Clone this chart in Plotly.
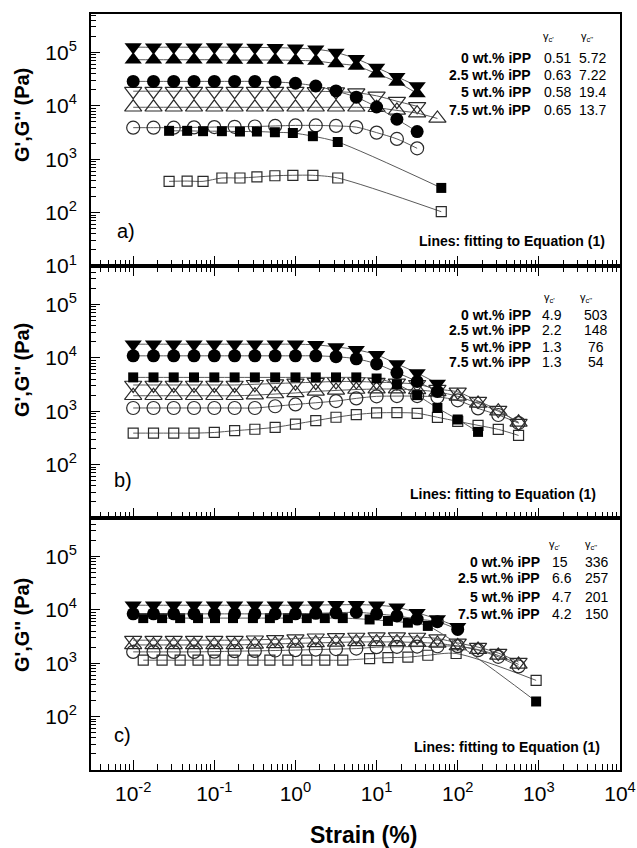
import plotly.graph_objects as go

# ---------------- data ----------------
# strain sweep grid (%)
strain = [0.01, 0.0178, 0.0316, 0.0562, 0.1, 0.178, 0.316, 0.562, 1.0, 1.78,
          3.16, 5.62, 10.0, 17.8, 31.6, 56.2, 100.0, 178.0, 316.0, 562.0]

# panel a
a_strain_sq = [0.0277, 0.0462, 0.0726, 0.124, 0.207, 0.335, 0.558, 0.929, 1.64, 3.32, 62.7]
a_tri_dn_fill = [1.26e5, 1.25e5, 1.26e5, 1.25e5, 1.26e5, 1.25e5, 1.24e5, 1.23e5, 1.2e5,
                 1.15e5, 1.0e5, 7.6e4, 5.2e4, 3.5e4, 2.35e4]
a_tri_up_fill = [7.3e4, 7.3e4, 7.3e4, 7.3e4, 7.3e4, 7.2e4, 7.2e4, 7.2e4, 7.1e4,
                 6.9e4, 6.2e4, 5.6e4, 4.0e4, 2.8e4, 1.7e4]
a_circ_fill = [2.87e4, 2.87e4, 2.87e4, 2.87e4, 2.87e4, 2.87e4, 2.87e4, 2.8e4, 2.65e4,
               2.35e4, 1.9e4, 1.45e4, 9.5e3, 5.6e3, 3.3e3]
a_sq_fill = [3.4e3, 3.4e3, 3.35e3, 3.35e3, 3.3e3, 3.3e3, 3.2e3, 3.1e3, 2.7e3, 2.1e3, 290]
a_tri_dn_open = [1.88e4, 1.88e4, 1.88e4, 1.88e4, 1.88e4, 1.88e4, 1.88e4, 1.88e4, 1.88e4,
                 1.87e4, 1.84e4, 1.76e4, 1.54e4, 1.22e4, 9.8e3]
a_tri_up_open = [9.4e3, 9.4e3, 9.4e3, 9.4e3, 9.4e3, 9.4e3, 9.4e3, 9.4e3, 9.4e3, 9.4e3,
                 9.4e3, 9.4e3, 9.2e3, 8.2e3, 7.3e3, 5.8e3]
a_circ_open = [3.9e3, 3.9e3, 3.9e3, 3.95e3, 4.0e3, 4.05e3, 4.1e3, 4.2e3, 4.3e3,
               4.3e3, 4.2e3, 4.0e3, 3.15e3, 2.4e3, 1.6e3]
a_sq_open = [385, 390, 385, 445, 445, 465, 490, 500, 500, 445, 104]

# panel b
b_tri_dn_fill = [1.8e4, 1.8e4, 1.8e4, 1.8e4, 1.8e4, 1.8e4, 1.8e4, 1.8e4, 1.8e4,
                 1.75e4, 1.6e4, 1.42e4, 1.14e4, 7.7e3, 5.2e3, 3.3e3]
b_circ_fill = [1.09e4, 1.09e4, 1.09e4, 1.09e4, 1.09e4, 1.09e4, 1.09e4, 1.09e4, 1.09e4,
               1.09e4, 1.05e4, 9.6e3, 7.7e3, 5.3e3, 3.6e3, 2.35e3]
b_sq_fill = [4.3e3, 4.3e3, 4.3e3, 4.3e3, 4.3e3, 4.3e3, 4.3e3, 4.3e3, 4.3e3, 4.3e3,
             4.3e3, 4.3e3, 4.1e3, 3.2e3, 2.0e3, 1.15e3, 700, 410]
b_tri_dn_open = [3.1e3, 3.1e3, 3.1e3, 3.1e3, 3.1e3, 3.1e3, 3.2e3, 3.3e3, 3.4e3, 3.5e3,
                 3.6e3, 3.6e3, 3.5e3, 3.4e3, 3.2e3, 2.6e3, 2.3e3, 1.55e3, 1.05e3, 600]
b_tri_up_open = [1.95e3, 1.95e3, 1.95e3, 1.95e3, 1.95e3, 1.95e3, 2.0e3, 2.1e3, 2.2e3, 2.35e3,
                 2.45e3, 2.55e3, 2.6e3, 2.6e3, 2.5e3, 2.3e3, 1.9e3, 1.4e3, 1.0e3, 620]
b_circ_open = [1.15e3, 1.15e3, 1.15e3, 1.15e3, 1.15e3, 1.15e3, 1.15e3, 1.24e3, 1.34e3, 1.44e3,
               1.55e3, 1.74e3, 1.9e3, 1.92e3, 1.92e3, 1.85e3, 1.6e3, 1.13e3, 850, 600]
b_sq_open = [389, 389, 389, 389, 400, 432, 460, 500, 575, 667,
             771, 867, 930, 940, 915, 770, 646, 544, 457, 352]

# panel c
c_strain_sq = [0.0133, 0.0227, 0.0379, 0.063, 0.102, 0.170, 0.299, 0.484, 0.807, 1.38,
               2.30, 3.83, 8.2, 13.8, 24.3, 42.8, 925]
c_strain_sq_open = [0.0133, 0.0227, 0.0379, 0.063, 0.102, 0.170, 0.299, 0.484, 0.807, 1.38,
                    2.30, 3.83, 8.2, 13.8, 24.3, 42.8, 95.5, 925]
c_tri_dn_fill = [1.22e4, 1.22e4, 1.22e4, 1.22e4, 1.22e4, 1.22e4, 1.22e4, 1.22e4, 1.22e4,
                 1.23e4, 1.24e4, 1.25e4, 1.22e4, 1.12e4, 8.8e3, 6.7e3, 4.8e3]
c_circ_fill = [8.4e3, 8.4e3, 8.4e3, 8.4e3, 8.4e3, 8.4e3, 8.4e3, 8.4e3, 8.4e3,
               8.6e3, 8.8e3, 9.0e3, 8.4e3, 7.7e3, 6.7e3, 6.0e3, 4.3e3]
c_sq_fill = [7.0e3, 7.0e3, 7.0e3, 7.0e3, 7.0e3, 7.0e3, 7.0e3, 7.0e3, 7.0e3, 7.0e3,
             7.0e3, 7.0e3, 6.6e3, 6.2e3, 5.75e3, 5.0e3, 192]
c_tri_dn_open = [2.7e3, 2.7e3, 2.7e3, 2.7e3, 2.7e3, 2.7e3, 2.75e3, 2.8e3, 2.9e3, 3.0e3,
                 3.05e3, 3.1e3, 3.15e3, 3.15e3, 3.1e3, 2.9e3, 2.4e3, 2.0e3, 1.55e3, 1.05e3]
c_tri_up_open = [2.2e3, 2.2e3, 2.2e3, 2.2e3, 2.2e3, 2.2e3, 2.25e3, 2.3e3, 2.35e3, 2.4e3,
                 2.45e3, 2.5e3, 2.5e3, 2.5e3, 2.45e3, 2.35e3, 2.1e3, 1.8e3, 1.4e3, 950]
c_circ_open = [1.63e3, 1.63e3, 1.63e3, 1.63e3, 1.65e3, 1.68e3, 1.7e3, 1.73e3, 1.76e3, 1.8e3,
               1.84e3, 1.88e3, 2.0e3, 2.03e3, 2.05e3, 2.08e3, 2.09e3, 1.76e3, 1.32e3, 870]
c_sq_open = [1.14e3, 1.14e3, 1.14e3, 1.14e3, 1.14e3, 1.14e3, 1.14e3, 1.14e3, 1.14e3, 1.14e3,
             1.14e3, 1.14e3, 1.22e3, 1.27e3, 1.3e3, 1.41e3, 1.52e3, 477]

# critical strain table
compositions = ["0 wt.% iPP", "2.5 wt.% iPP", "5 wt.% iPP", "7.5 wt.% iPP"]
gamma_c1 = {"a": ["0.51", "0.63", "0.58", "0.65"],
            "b": ["4.9", "2.2", "1.3", "1.3"],
            "c": ["15", "6.6", "4.7", "4.2"]}
gamma_c2 = {"a": ["5.72", "7.22", "19.4", "13.7"],
            "b": ["503", "148", "76", "54"],
            "c": ["336", "257", "201", "150"]}

x_major = [0.01, 0.1, 1, 10, 100, 1000, 10000]
x_major_text = ["10<sup>-2</sup>", "10<sup>-1</sup>", "10<sup>0</sup>", "10<sup>1</sup>",
                "10<sup>2</sup>", "10<sup>3</sup>", "10<sup>4</sup>"]
y_major = [10, 100, 1000, 10000, 100000]
y_major_text = ["10<sup>1</sup>", "10<sup>2</sup>", "10<sup>3</sup>", "10<sup>4</sup>", "10<sup>5</sup>"]

# ---------------- figure ----------------
FONT = "Liberation Sans, Arial, sans-serif"
W, H = 637, 848
ML, MR, MT, MB = 91, 17, 14, 78
PW, PH = W - ML - MR, H - MT - MB


def px(x):
    return (x - ML) / PW


def py(y):
    return (H - MB - y) / PH


fig = go.Figure()

LINE = dict(color="#5a5a5a", width=1, shape="spline", smoothing=0.8)


def add(ax, xs, ys, symbol, size, filled=True):
    xs = xs[:len(ys)]
    if filled:
        marker = dict(symbol=symbol, size=size, color="black", line=dict(width=0))
    else:
        marker = dict(symbol=symbol + "-open", size=size, color="#2a2a2a", line=dict(width=1.2))
    fig.add_trace(go.Scatter(x=xs, y=ys, mode="lines+markers", line=LINE, marker=marker,
                             xaxis="x" + ax, yaxis="y" + ax, showlegend=False,
                             cliponaxis=True))


TRI, CIR, SQ = 15, 13, 10

# panel a (top axes)
add("", strain, a_circ_open, "circle", CIR, False)
add("", a_strain_sq, a_sq_open, "square", SQ, False)
add("", strain, a_tri_dn_open, "triangle-down", TRI, False)
add("", strain, a_tri_up_open, "triangle-up", TRI, False)
add("", a_strain_sq, a_sq_fill, "square", SQ)
add("", strain, a_circ_fill, "circle", CIR)
add("", strain, a_tri_dn_fill, "triangle-down", TRI)
add("", strain, a_tri_up_fill, "triangle-up", TRI)

# panel b
add("2", strain, b_sq_open, "square", SQ, False)
add("2", strain, b_circ_open, "circle", CIR, False)
add("2", strain, b_tri_up_open, "triangle-up", TRI, False)
add("2", strain, b_tri_dn_open, "triangle-down", TRI, False)
add("2", strain, b_sq_fill, "square", SQ)
add("2", strain, b_circ_fill, "circle", CIR)
add("2", strain, b_tri_dn_fill, "triangle-down", TRI)

# panel c
add("3", c_strain_sq_open, c_sq_open, "square", SQ, False)
add("3", strain, c_circ_open, "circle", CIR, False)
add("3", strain, c_tri_up_open, "triangle-up", TRI, False)
add("3", strain, c_tri_dn_open, "triangle-down", TRI, False)
add("3", c_strain_sq, c_sq_fill, "square", SQ)
add("3", strain, c_circ_fill, "circle", CIR)
add("3", strain, c_tri_dn_fill, "triangle-down", TRI)


def minor_vals(lo, hi):
    return [d * 10.0 ** e for e in range(lo, hi + 1) for d in range(2, 10)]


tickfont = dict(family=FONT, size=21, color="black")
xbase = dict(type="log", range=[-2.52, 4], showline=True, linecolor="black", linewidth=2,
             ticks="inside", ticklen=10, tickwidth=1.3, tickcolor="black",
             tickmode="array", tickvals=x_major, ticktext=x_major_text,
             minor=dict(ticks="inside", ticklen=6, tickwidth=1.1, tickcolor="black",
                        tickmode="array", tickvals=minor_vals(-3, 3)),
             showgrid=False, zeroline=False, tickfont=tickfont, ticklabelstandoff=4,
             automargin=False)
ybase = dict(type="log", range=[1, 5.72], showline=True, linecolor="black", linewidth=2,
             ticks="inside", ticklen=9, tickwidth=1.3, tickcolor="black", mirror=True,
             minor=dict(ticks="inside", ticklen=5, tickwidth=1.1, tickcolor="black",
                        tickmode="array", tickvals=minor_vals(0, 5)),
             showgrid=False, zeroline=False, tickfont=tickfont, ticklabelstandoff=8,
             tickmode="array", automargin=False)

fig.update_layout(
    width=W, height=H, margin=dict(l=ML, r=MR, t=MT, b=MB, autoexpand=False),
    paper_bgcolor="white", plot_bgcolor="white",
    xaxis=dict(xbase, domain=[0, 1], anchor="y", showticklabels=False, mirror=True),
    xaxis2=dict(xbase, domain=[0, 1], anchor="y2", showticklabels=False, mirror="ticks"),
    xaxis3=dict(xbase, domain=[0, 1], anchor="y3", showticklabels=True, mirror=True),
    yaxis=dict(ybase, domain=[2 / 3, 1], anchor="x", tickvals=y_major, ticktext=y_major_text),
    yaxis2=dict(ybase, domain=[1 / 3, 2 / 3], anchor="x2",
                tickvals=y_major[1:], ticktext=y_major_text[1:]),
    yaxis3=dict(ybase, domain=[0, 1 / 3], anchor="x3",
                tickvals=y_major[1:], ticktext=y_major_text[1:]),
)

ann = []


def text(x, y, s, size=14, bold=False, anchor="left", angle=0):
    ann.append(dict(x=px(x), y=py(y), xref="paper", yref="paper", text=s, showarrow=False,
                    xanchor=anchor, yanchor="middle", textangle=angle,
                    font=dict(family=FONT, size=size, color="black",
                              weight="bold" if bold else "normal")))


# panel tables: header row, data rows, column positions
tables = {
    "a": dict(head=36.7, rows=[58, 74.7, 92, 110], lab=533, c1=541.7, c2=592.5, h1=548, h2=587,
              lines=(606.7, 240.7), tag=("a)", 115, 231)),
    "b": dict(head=298.3, rows=[315, 330.5, 346.7, 361.7], lab=533, c1=540, c2=595.7, h1=549, h2=586,
              lines=(598.3, 494), tag=("b)", 112, 480)),
    "c": dict(head=545, rows=[561.7, 578.3, 596.7, 614], lab=541.7, c1=550, c2=597, h1=554, h2=591,
              lines=(601.7, 746.7), tag=("c)", 112, 735)),
}
for key, t in tables.items():
    text(t["h1"], t["head"], "γ<sub>c'</sub>", size=11, anchor="center")
    text(t["h2"], t["head"], "γ<sub>c''</sub>", size=11, anchor="center")
    for i, yv in enumerate(t["rows"]):
        text(t["lab"], yv, compositions[i], size=14, bold=True, anchor="right")
        text(t["c1"], yv, gamma_c1[key][i], size=14, anchor="left")
        text(t["c2"], yv, gamma_c2[key][i], size=14, anchor="center")
    text(t["lines"][0], t["lines"][1], "Lines: fitting to Equation (1)", size=14, bold=True,
         anchor="right")
    text(t["tag"][1], t["tag"][2], t["tag"][0], size=20, anchor="left")

# axis titles
for yc in (115, 370, 625):
    text(22, yc, "G',G'' (Pa)", size=20, bold=True, anchor="center", angle=-90)
text(363, 835, "Strain (%)", size=23, bold=True, anchor="center")

fig.update_layout(annotations=ann)
fig.write_html("out.html")
